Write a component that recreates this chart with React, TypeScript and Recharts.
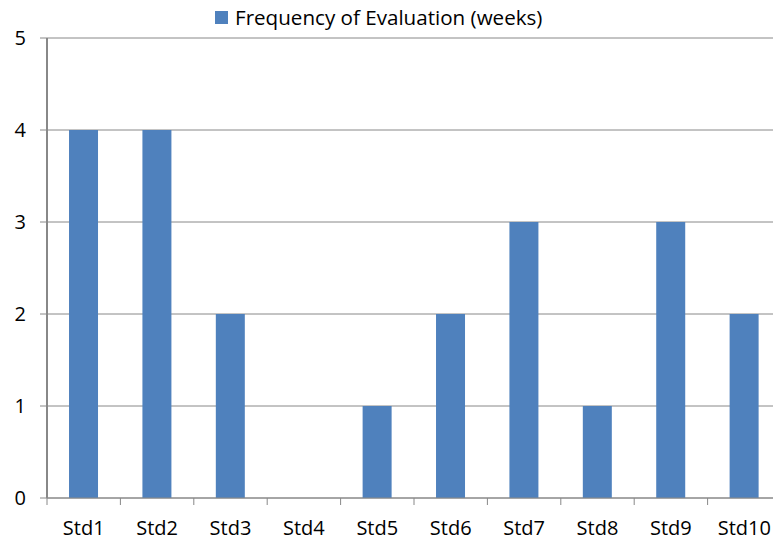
import React from 'react';
import { BarChart, Bar, XAxis, YAxis, CartesianGrid } from 'recharts';

const students = ['Std1', 'Std2', 'Std3', 'Std4', 'Std5', 'Std6', 'Std7', 'Std8', 'Std9', 'Std10'];
const frequencyWeeks = [4, 4, 2, 0, 1, 2, 3, 1, 3, 2];
const yTicks = [0, 1, 2, 3, 4, 5];

const data = students.map((name, i) => ({ name, freq: frequencyWeeks[i] }));

const CHART_W = 800;
const CHART_H = 542;
const MARGIN = { top: 38, right: 19, left: 0, bottom: 0 };
const Y_AXIS_W = 47;
const BAND = (CHART_W - MARGIN.left - MARGIN.right - Y_AXIS_W) / students.length;

const FONT = '"Open Sans", sans-serif';
const FONT_SIZE = 20;
const GRID = '#888888';
const BLUE = '#4F81BD';

// category labels with tick marks on the category boundaries
const CategoryTick = (props: any) => {
  const { x, y, payload } = props;
  const left = x - BAND / 2;
  return (
    <g>
      <line x1={left} y1={y - 8} x2={left} y2={y - 1} stroke={GRID} strokeWidth={1} />
      <text x={x} y={y + 29} textAnchor="middle" fontFamily={FONT} fontSize={FONT_SIZE} fill="#000">
        {payload.value}
      </text>
    </g>
  );
};

export default function App() {
  return (
    <div style={{ position: 'absolute', left: 0, top: 0, width: 773, height: 542, overflow: 'hidden', background: '#fff' }}>
      <div
        style={{
          position: 'absolute', left: 215, top: 3, display: 'flex', alignItems: 'center',
          fontFamily: FONT, fontSize: 20.6, color: '#000', whiteSpace: 'nowrap',
        }}
      >
        <span style={{ display: 'inline-block', width: 13, height: 13, background: BLUE, marginRight: 7 }} />
        <span>Frequency of Evaluation (weeks)</span>
      </div>
      <BarChart width={CHART_W} height={CHART_H} data={data} margin={MARGIN} barCategoryGap="30%">
        <CartesianGrid vertical={false} stroke={GRID} strokeWidth={1} />
        <XAxis
          dataKey="name"
          height={44}
          axisLine={{ stroke: GRID, strokeWidth: 1 }}
          tickLine={false}
          tick={<CategoryTick />}
          interval={0}
        />
        <YAxis
          width={Y_AXIS_W}
          domain={[0, 5]}
          ticks={yTicks}
          axisLine={{ stroke: GRID, strokeWidth: 2 }}
          tickLine={{ stroke: GRID }}
          tickSize={7}
          tickMargin={14}
          tick={{ fontFamily: FONT, fontSize: FONT_SIZE, fill: '#000' }}
        />
        <Bar dataKey="freq" fill={BLUE} isAnimationActive={false} />
      </BarChart>
    </div>
  );
}
